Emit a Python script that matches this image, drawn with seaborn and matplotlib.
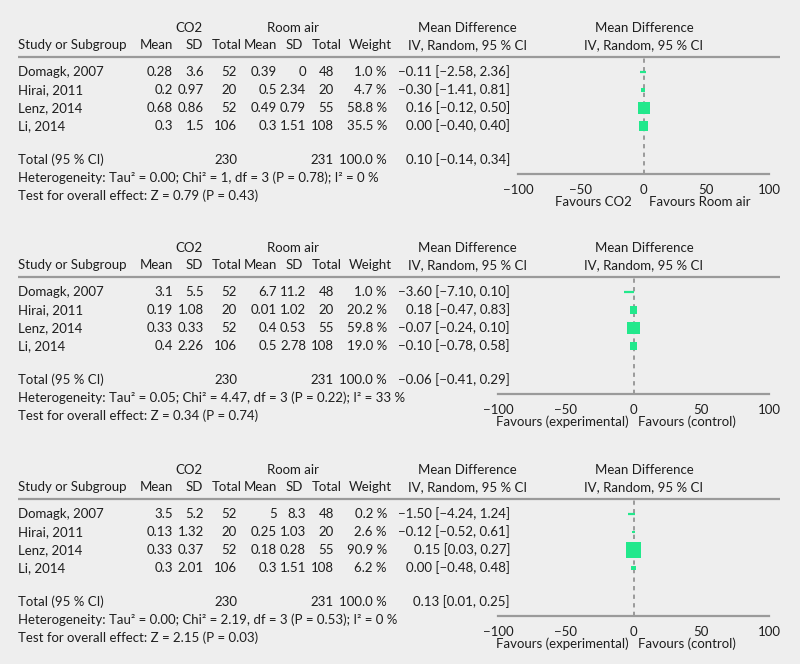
import matplotlib
matplotlib.use("Agg")
import matplotlib.pyplot as plt
import seaborn as sns
import pandas as pd

# ---- data -------------------------------------------------------------
studies = ["Domagk, 2007", "Hirai, 2011", "Lenz, 2014", "Li, 2014"]
co2_total = [52, 20, 52, 106]
air_total = [48, 20, 55, 108]

co2_mean = [[0.28, 0.2, 0.68, 0.3], [3.1, 0.19, 0.33, 0.4], [3.5, 0.13, 0.33, 0.3]]
co2_sd = [[3.6, 0.97, 0.86, 1.5], [5.5, 1.08, 0.33, 2.26], [5.2, 1.32, 0.37, 2.01]]
air_mean = [[0.39, 0.5, 0.49, 0.3], [6.7, 0.01, 0.4, 0.5], [5, 0.25, 0.18, 0.3]]
air_sd = [[0, 2.34, 0.79, 1.51], [11.2, 1.02, 0.53, 2.78], [8.3, 1.03, 0.28, 1.51]]
weights = [[1.0, 4.7, 58.8, 35.5], [1.0, 20.2, 59.8, 19.0], [0.2, 2.6, 90.9, 6.2]]
md = [[-0.11, -0.30, 0.16, 0.00], [-3.60, 0.18, -0.07, -0.10], [-1.50, -0.12, 0.15, 0.00]]
md_lo = [[-2.58, -1.41, -0.12, -0.40], [-7.10, -0.47, -0.24, -0.78], [-4.24, -0.52, 0.03, -0.48]]
md_hi = [[2.36, 0.81, 0.50, 0.40], [0.10, 0.83, 0.10, 0.58], [1.24, 0.61, 0.27, 0.48]]

total_weight = [100.0, 100.0, 100.0]
pooled_md = [0.10, -0.06, 0.13]
pooled_lo = [-0.14, -0.41, 0.01]
pooled_hi = [0.34, 0.29, 0.25]
tau2 = [0.00, 0.05, 0.00]
chi2 = [1, 4.47, 2.19]
p_het = [0.78, 0.22, 0.53]
i2 = [0, 33, 0]
z_val = [0.79, 0.34, 2.15]
p_z = [0.43, 0.74, 0.03]
favours_left = ["Favours CO2", "Favours (experimental)", "Favours (experimental)"]
favours_right = ["Favours Room air", "Favours (control)", "Favours (control)"]
x_ticks = [-100, -50, 0, 50, 100]

# ---- layout (pixels) --------------------------------------------------
W, H = 800, 664
BG = "#eeeeee"
GREEN = "#22e88c"
GREY = "#9a9a9a"
TXT = "#1e1e1e"
FS = 9.5
sep_y = [57, 277, 499]
axis_left = [518, 498, 498]
axis_right = 769

sns.set_theme(style="white")
plt.rcParams["font.family"] = ["Lato", "DejaVu Sans"]


def fmt(v):
    return f"{v:g}"


def ci_str(m, lo, hi):
    return f"{m:.2f} [{lo:.2f}, {hi:.2f}]".replace("-", "\u2212")


fig = plt.figure(figsize=(W / 100, H / 100), dpi=100, facecolor=BG)
ax = fig.add_axes([0, 0, 1, 1])
ax.set_xlim(0, W)
ax.set_ylim(H, 0)
ax.axis("off")
ax.set_facecolor("none")


def put(x, y, s, ha="right"):
    ax.text(x, y, s, ha=ha, va="center", fontsize=FS, color=TXT)


for p in range(3):
    s = sep_y[p]
    # headers
    put(189, s - 29, "CO2", "center")
    put(293, s - 29, "Room air", "center")
    put(467, s - 29, "Mean Difference", "center")
    put(644, s - 29, "Mean Difference", "center")
    put(18, s - 12, "Study or Subgroup", "left")
    put(173, s - 12, "Mean")
    put(203, s - 12, "SD")
    put(242, s - 12, "Total")
    put(277, s - 12, "Mean")
    put(303, s - 12, "SD")
    put(342, s - 12, "Total")
    put(392, s - 12, "Weight")
    put(467, s - 12, "IV, Random, 95 % CI", "center")
    put(644, s - 12, "IV, Random, 95 % CI", "center")
    ax.plot([18, 780], [s, s], color=GREY, lw=1.6, solid_capstyle="butt")

    rows_y = [s + 15 + 18 * i for i in range(len(studies))]
    for i, name in enumerate(studies):
        y = rows_y[i]
        put(18, y, name, "left")
        put(173, y, fmt(co2_mean[p][i]))
        put(204, y, fmt(co2_sd[p][i]))
        put(237, y, str(co2_total[i]))
        put(277, y, fmt(air_mean[p][i]))
        put(306, y, fmt(air_sd[p][i]))
        put(334, y, str(air_total[i]))
        put(387, y, f"{weights[p][i]:.1f} %")
        put(510, y, ci_str(md[p][i], md_lo[p][i], md_hi[p][i]))

    ty = s + 103
    put(18, ty, "Total (95 % CI)", "left")
    put(237, ty, str(sum(co2_total)))
    put(334, ty, str(sum(air_total)))
    put(387, ty, f"{total_weight[p]:.1f} %")
    put(510, ty, ci_str(pooled_md[p], pooled_lo[p], pooled_hi[p]))
    put(18, ty + 18,
        f"Heterogeneity: Tau\u00b2 = {tau2[p]:.2f}; Chi\u00b2 = {fmt(chi2[p])}, df = 3 "
        f"(P = {p_het[p]:.2f}); I\u00b2 = {i2[p]} %", "left")
    put(18, ty + 36, f"Test for overall effect: Z = {z_val[p]:.2f} (P = {p_z[p]:.2f})", "left")

    # forest plot axes spanning separator -> axis line
    ay = s + 117
    fx = fig.add_axes([axis_left[p] / W, 1 - ay / H,
                       (axis_right - axis_left[p]) / W, (ay - s) / H])
    fx.set_facecolor("none")
    fx.set_xlim(-100, 100)
    fx.set_ylim(ay, s)
    df = pd.DataFrame({"md": md[p], "lo": md_lo[p], "hi": md_hi[p],
                       "w": weights[p], "y": rows_y})
    fx.axvline(0, color=GREY, lw=1.4, ls=(0, (2.2, 2.2)), zorder=1)
    fx.hlines(df["y"], df["lo"], df["hi"], color=GREEN, lw=1.6, zorder=2)
    sns.scatterplot(data=df, x="md", y="y", size="w", sizes=(0, 135),
                    size_norm=(0, 100), marker="s", color=GREEN,
                    linewidth=0, legend=False, ax=fx, zorder=3)
    fx.set_xlabel("")
    fx.set_ylabel("")
    fx.set_yticks([])
    fx.set_xticks(x_ticks)
    for sp in ["top", "left", "right"]:
        fx.spines[sp].set_visible(False)
    fx.spines["bottom"].set_color(GREY)
    fx.spines["bottom"].set_linewidth(1.6)
    fx.tick_params(axis="x", direction="inout", length=8, width=1.6,
                   color=GREY, labelsize=FS, labelcolor=TXT, pad=3)

    put(593 if p == 0 else 562, ay + 28, favours_left[p], "center")
    put(700 if p == 0 else 687, ay + 28, favours_right[p], "center")

fig.savefig("out.png", dpi=100, facecolor=BG)
